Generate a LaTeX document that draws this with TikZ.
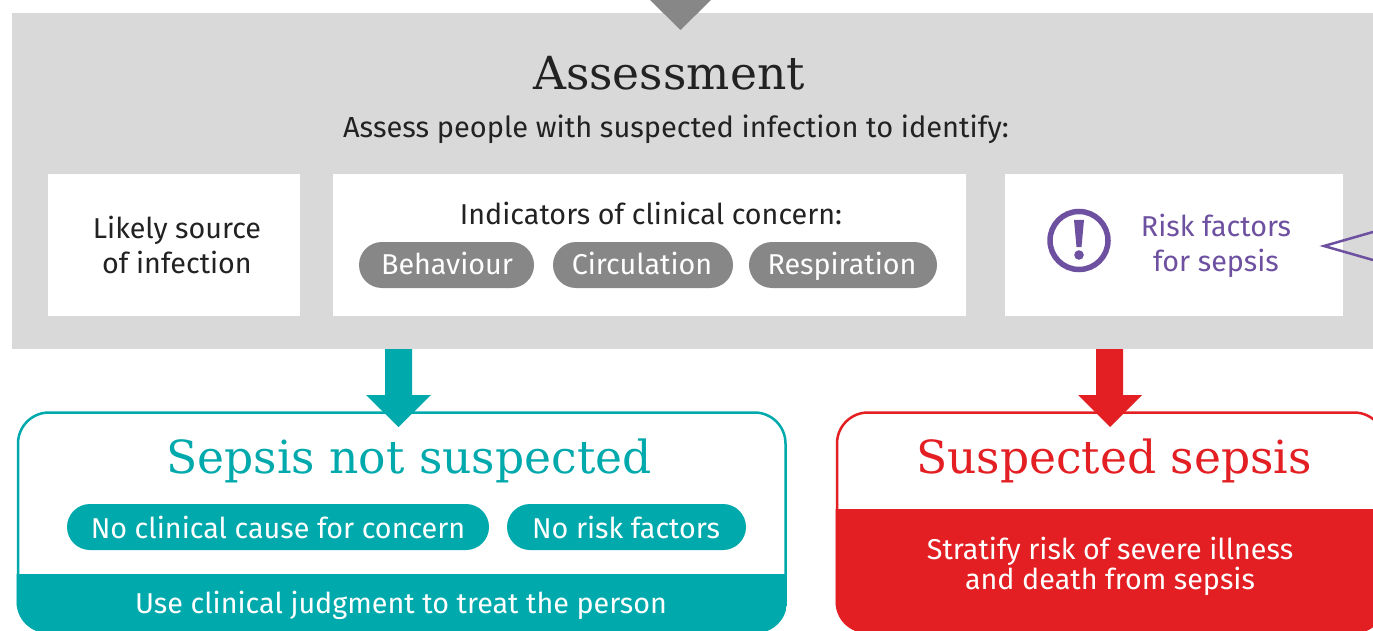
\documentclass[tikz,border=0pt]{standalone}
\usepackage{fontspec}
\setsansfont{Fira Sans}
\newfontfamily\headfont{DejaVu Serif}
\definecolor{panelgrey}{HTML}{D9D9D9}
\definecolor{pillgrey}{HTML}{878787}
\definecolor{arrowgrey}{HTML}{878787}
\definecolor{teal}{HTML}{00A9AC}
\definecolor{alertred}{HTML}{E31F23}
\definecolor{riskpurple}{HTML}{6E50A0}
\definecolor{inktext}{HTML}{222222}
\newcommand{\fsz}[2]{\fontsize{#1}{#2}\selectfont}
\tikzset{
  x=1pt,y=-1pt,
  whitebox/.style={fill=white,draw=none},
  bodytext/.style={text=inktext,font=\sffamily\fsz{28.7}{35},align=center,inner sep=0pt,anchor=base},
  twolines/.style={bodytext,anchor=center},
  pilltext/.style={text=white,font=\sffamily\fsz{28.7}{35},inner sep=0pt,anchor=base},
  headtext/.style={font=\headfont\fsz{45.6}{50},inner sep=0pt,anchor=base},
  pillshape/.style={rounded corners=23pt,draw=none},
}
\begin{document}
\begin{tikzpicture}
\useasboundingbox (0,0) rectangle (1373,631);
\clip (0,0) rectangle (1373,631);
% panel
\fill[panelgrey] (12,13) rectangle (1373,349);
\fill[arrowgrey] (650,0) -- (711,0) -- (680.5,30) -- cycle;
\node[headtext,text=inktext] (title) at (669,90) {Assessment};
\node[bodytext,font=\sffamily\fsz{29}{35}] (sub) at (676,138) {Assess people with suspected infection to identify:};
% white boxes
\fill[whitebox] (48,174) rectangle (300,316);
\node[twolines] (src) at (177,245) {Likely source\\of infection};
\fill[whitebox] (333,174) rectangle (966,316);
\node[bodytext] (ind) at (651,225) {Indicators of clinical concern:};
\fill[pillgrey,pillshape] (359,242) rectangle (534,288);
\node[pilltext] (p1) at (447,274) {Behaviour};
\fill[pillgrey,pillshape] (553,242) rectangle (733,288);
\node[pilltext] (p2) at (642,274) {Circulation};
\fill[pillgrey,pillshape] (749,242) rectangle (937,288);
\node[pilltext] (p3) at (842,274) {Respiration};
\fill[whitebox] (1005,174) rectangle (1343,316);
\draw[riskpurple,line width=5.5pt] (1079,240.5) circle (29);
\fill[riskpurple] (1074,220) -- (1084,220) -- (1081.5,247) -- (1076.5,247) -- cycle;
\fill[riskpurple] (1079,255) circle (4.8);
\node[twolines,text=riskpurple] (risk) at (1216,246) {Risk factors\\for sepsis};
\draw[riskpurple,line width=2.5pt] (1373,232) -- (1324,246) -- (1373,260);
% left outcome
\draw[teal,line width=2.5pt,fill=white,rounded corners=31pt] (18,412.5) rectangle (785.5,632);
\begin{scope}
\clip[rounded corners=31pt] (16.5,411) rectangle (787,633);
\fill[teal] (16,574) rectangle (787,633);
\end{scope}
\fill[teal] (385,349) -- (412,349) -- (412,395) -- (431,395) -- (398.5,427) -- (366,395) -- (385,395) -- cycle;
\node[headtext,text=teal] (ns) at (409,473) {Sepsis not suspected};
\fill[teal,pillshape] (67,504) rectangle (489,550);
\node[pilltext] (n1) at (278,538) {No clinical cause for concern};
\fill[teal,pillshape] (507,504) rectangle (746,550);
\node[pilltext] (n2) at (626,538) {No risk factors};
\node[pilltext] (n3) at (401,613) {Use clinical judgment to treat the person};
% right outcome
\draw[alertred,line width=2.5pt,fill=white,rounded corners=31pt] (837,412.5) rectangle (1385,632);
\begin{scope}
\clip[rounded corners=31pt] (835.5,411) rectangle (1386,633);
\fill[alertred] (835,509) rectangle (1387,633);
\end{scope}
\fill[alertred] (1096,349) -- (1123,349) -- (1123,395) -- (1142,395) -- (1110,427) -- (1078,395) -- (1096,395) -- cycle;
\node[headtext,text=alertred] (ss) at (1114,473) {Suspected sepsis};
\node[pilltext,align=center,anchor=center,font=\sffamily\fsz{28.7}{30}] (s1) at (1110,566) {Stratify risk of severe illness\\and death from sepsis};
\end{tikzpicture}
\end{document}
